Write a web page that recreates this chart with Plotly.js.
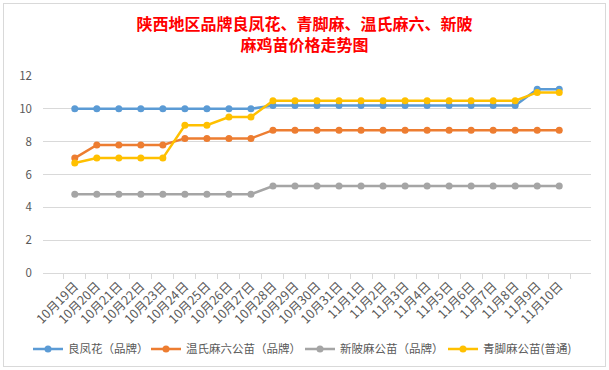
<!DOCTYPE html>
<html>
<head>
<meta charset="utf-8">
<script src="https://cdn.plot.ly/plotly-3.0.1.min.js"></script>
<style>
html,body{margin:0;padding:0;background:#fff;}
#wrap{position:relative;width:609px;height:370px;}
#chart{width:609px;height:370px;}
#frame{position:absolute;left:3px;top:3px;width:601px;height:362px;border:1px solid #d9d9d9;pointer-events:none;}
</style>
</head>
<body>
<div id="wrap"><div id="chart"></div><div id="frame"></div></div>
<script>
const categories = ["10月19日","10月20日","10月21日","10月22日","10月23日","10月24日","10月25日","10月26日","10月27日","10月28日","10月29日","10月30日","10月31日","11月1日","11月2日","11月3日","11月4日","11月5日","11月6日","11月7日","11月8日","11月9日","11月10日"];
const seriesNames = ["良凤花（品牌）","温氏麻六公苗（品牌）","新陂麻公苗（品牌）","青脚麻公苗(普通)"];
const liangfenghua = [10,10,10,10,10,10,10,10,10,10.2,10.2,10.2,10.2,10.2,10.2,10.2,10.2,10.2,10.2,10.2,10.2,11.2,11.2];
const wenshi = [7.0,7.8,7.8,7.8,7.8,8.2,8.2,8.2,8.2,8.7,8.7,8.7,8.7,8.7,8.7,8.7,8.7,8.7,8.7,8.7,8.7,8.7,8.7];
const xinpo = [4.8,4.8,4.8,4.8,4.8,4.8,4.8,4.8,4.8,5.3,5.3,5.3,5.3,5.3,5.3,5.3,5.3,5.3,5.3,5.3,5.3,5.3,5.3];
const qingjiao = [6.7,7.0,7.0,7.0,7.0,9.0,9.0,9.5,9.5,10.5,10.5,10.5,10.5,10.5,10.5,10.5,10.5,10.5,10.5,10.5,10.5,11.0,11.0];
const yTicks = [0,2,4,6,8,10,12];

const colors = ["#5B9BD5","#ED7D31","#A5A5A5","#FFC000"];
const values = [liangfenghua, wenshi, xinpo, qingjiao];
const legendIds = ["legend","legend2","legend3","legend4"];
const traces = values.map((v,i)=>({
  type:"scatter", mode:"lines+markers", x:categories, y:v, name:seriesNames[i],
  line:{color:colors[i], width:2.5}, marker:{color:colors[i], size:7},
  legend: legendIds[i]
}));

const font = "Noto Sans CJK SC, sans-serif";
const legendX = [28, 146, 300, 443];
const layout = {
  width:609, height:370,
  margin:{l:43, r:18, t:76, b:97, autoexpand:false},
  paper_bgcolor:"#fff", plot_bgcolor:"#fff",
  title:{text:"陕西地区品牌良凤花、青脚麻、温氏麻六、新陂<br>麻鸡苗价格走势图", font:{family:font, size:16, color:"#FF0000", weight:"bold"}, x:0.5, xanchor:"center", y:0.918, yanchor:"middle", yref:"container"},
  xaxis:{type:"category", tickangle:-45, tickfont:{family:font, size:12.5, color:"#595959"}, showline:true, linecolor:"#d9d9d9", ticks:"outside", ticklen:5, tickcolor:"#d9d9d9", tickson:"boundaries", showgrid:false, automargin:false},
  yaxis:{range:[0,12], tickvals:yTicks, tickfont:{family:font, size:11.5, color:"#595959"}, gridcolor:"#d9d9d9", zeroline:false, showline:false, ticks:"", ticklabelstandoff:10, automargin:false},
  showlegend:true
};
legendIds.forEach((id,i)=>{
  layout[id] = {orientation:"h", xref:"container", yref:"container", x:legendX[i]/609, xanchor:"left", y:0.057, yanchor:"middle", font:{family:font, size:11.5, color:"#595959"}, itemwidth:30, bgcolor:"rgba(0,0,0,0)"};
});
Plotly.newPlot("chart", traces, layout, {displayModeBar:false, staticPlot:true});
</script>
</body>
</html>
